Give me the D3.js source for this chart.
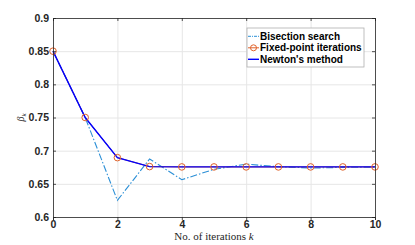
<!DOCTYPE html>
<html>
<head>
<meta charset="utf-8">
<script src="https://cdnjs.cloudflare.com/ajax/libs/d3/7.8.5/d3.min.js"></script>
<style>
  body { margin: 0; background: #fff; }
  .tick text { font-family: "Liberation Sans", Arial, sans-serif; font-weight: bold; font-size: 10.5px; fill: #262626; }
  .grid line { stroke: #e6e6e6; }
  .grid path { display: none; }
</style>
</head>
<body>
<svg id="chart" width="415" height="245"></svg>
<script>
// Data
const iterations = [0, 1, 2, 3, 4, 5, 6, 7, 8, 9, 10];
const bisection = [0.85, 0.75, 0.625, 0.6875, 0.65625, 0.671875, 0.6797, 0.6758, 0.6738, 0.6748, 0.6753];
const fixedPoint = [0.85, 0.75, 0.6895, 0.6760, 0.6755, 0.6755, 0.6755, 0.6755, 0.6755, 0.6755, 0.6755];
const newton = [0.85, 0.75, 0.6895, 0.6760, 0.6755, 0.6755, 0.6755, 0.6755, 0.6755, 0.6755, 0.6755];
const xTicks = [0, 2, 4, 6, 8, 10];
const yTicks = [0.6, 0.65, 0.7, 0.75, 0.8, 0.85, 0.9];
const seriesNames = ["Bisection search", "Fixed-point iterations", "Newton's method"];

const margin = { left: 53, right: 40, top: 18, bottom: 28 };
const width = 415 - margin.left - margin.right;
const height = 245 - margin.top - margin.bottom;

const svg = d3.select("#chart");
const g = svg.append("g").attr("transform", `translate(${margin.left},${margin.top})`);

const x = d3.scaleLinear().domain([0, 10]).range([0, width]);
const y = d3.scaleLinear().domain([0.6, 0.9]).range([height, 0]);

// grid
g.append("g").attr("class", "grid")
  .call(d3.axisLeft(y).tickValues(yTicks).tickSize(-width).tickFormat(""));
g.append("g").attr("class", "grid")
  .attr("transform", `translate(0,${height})`)
  .call(d3.axisBottom(x).tickValues(xTicks).tickSize(-height).tickFormat(""));

const line = d3.line().x((d, i) => x(iterations[i])).y(d => y(d));

g.append("path").datum(bisection)
  .attr("fill", "none").attr("stroke", "#2b8fd6").attr("stroke-width", 1.1)
  .attr("stroke-dasharray", "7,2,1.5,2")
  .attr("d", line);

g.append("path").datum(fixedPoint)
  .attr("fill", "none").attr("stroke", "#D95319").attr("stroke-width", 1)
  .attr("d", line);

g.append("path").datum(newton)
  .attr("fill", "none").attr("stroke", "#0000ff").attr("stroke-width", 1.4)
  .attr("d", line);

g.selectAll(".fp").data(fixedPoint).enter().append("circle")
  .attr("cx", (d, i) => x(iterations[i])).attr("cy", d => y(d))
  .attr("r", 3.3).attr("fill", "none").attr("stroke", "#e0622a").attr("stroke-width", 1);

// axes
const xAxis = g.append("g").attr("transform", `translate(0,${height})`)
  .call(d3.axisBottom(x).tickValues(xTicks).tickSize(3).tickFormat(d3.format("d")));
const xAxisTop = g.append("g")
  .call(d3.axisTop(x).tickValues(xTicks).tickSize(-3).tickFormat(""));
const yAxis = g.append("g")
  .call(d3.axisLeft(y).tickValues(yTicks).tickSize(-3).tickFormat(d => d3.format("")(d)));
const yAxisR = g.append("g").attr("transform", `translate(${width},0)`)
  .call(d3.axisRight(y).tickValues(yTicks).tickSize(-3).tickFormat(""));
[xAxis, xAxisTop, yAxis, yAxisR].forEach(a => {
  a.select(".domain").attr("stroke", "#262626").attr("stroke-width", 0.8);
  a.selectAll(".tick line").attr("stroke", "#262626").attr("stroke-width", 0.8);
});
xAxis.selectAll(".tick text").attr("dy", "0.55em").attr("y", 5);
yAxis.selectAll(".tick text").attr("x", -4);

// axis labels
svg.append("text")
  .attr("x", margin.left + width / 2).attr("y", 240)
  .attr("text-anchor", "middle")
  .style("font-family", "'Liberation Serif', 'Times New Roman', serif")
  .style("font-size", "11px").style("fill", "#262626")
  .html("No. of iterations <tspan font-style='italic'>k</tspan>");

const yl = svg.append("text")
  .attr("transform", `translate(24,${margin.top + height / 2}) rotate(-90)`)
  .attr("text-anchor", "middle")
  .style("font-family", "'Liberation Serif', serif")
  .style("font-size", "10px").style("fill", "#262626").style("font-style", "italic");
yl.append("tspan").text("β");
yl.append("tspan").attr("dy", 2).style("font-size", "7px").text("k");

// legend
const legend = svg.append("g").attr("transform", "translate(247,28)");
legend.append("rect").attr("width", 117).attr("height", 39)
  .attr("fill", "#fff").attr("stroke", "#b0b0b0").attr("stroke-width", 0.8);
const legStyles = [
  { color: "#2b8fd6", dash: "3,1,1,1", w: 1 },
  { color: "#e0622a", dash: null, w: 1, marker: true },
  { color: "#0000ff", dash: null, w: 1.4 }
];
seriesNames.forEach((name, i) => {
  const row = legend.append("g").attr("transform", `translate(0,${8.3 + i * 11.5})`);
  row.append("line").attr("x1", 1).attr("x2", 12).attr("y1", 0).attr("y2", 0)
    .attr("stroke", legStyles[i].color).attr("stroke-width", legStyles[i].w)
    .attr("stroke-dasharray", legStyles[i].dash);
  if (legStyles[i].marker) {
    row.append("circle").attr("cx", 6.5).attr("cy", 0).attr("r", 3)
      .attr("fill", "none").attr("stroke", legStyles[i].color);
  }
  row.append("text").attr("x", 13).attr("y", 0).attr("dy", "0.35em")
    .style("font-family", "'Liberation Sans', Arial, sans-serif")
    .style("font-weight", "bold").style("font-size", "10px").style("fill", "#000")
    .text(name);
});
</script>
</body>
</html>
